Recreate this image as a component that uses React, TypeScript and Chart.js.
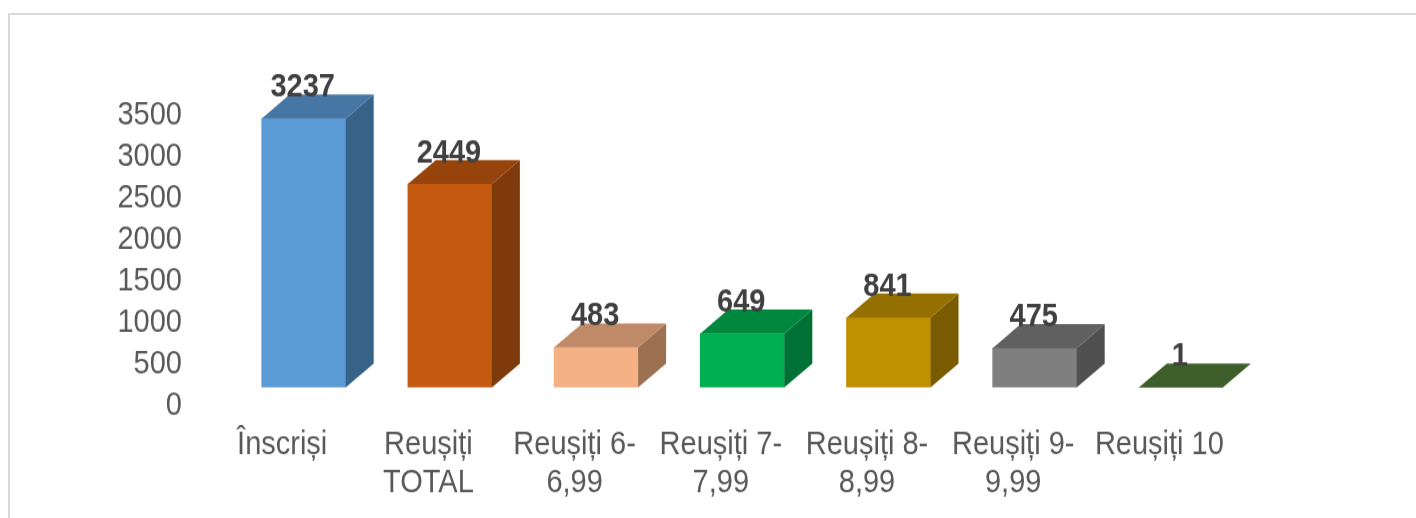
import React, { useEffect, useRef } from 'react';
import { Chart, registerables } from 'chart.js';

Chart.register(...registerables);

// ---- data ----
const categories: (string | string[])[] = [
  'Înscriși',
  ['Reușiți', 'TOTAL'],
  ['Reușiți 6-', '6,99'],
  ['Reușiți 7-', '7,99'],
  ['Reușiți 8-', '8,99'],
  ['Reușiți 9-', '9,99'],
  'Reușiți 10',
];
const values = [3237, 2449, 483, 649, 841, 475, 1];
const yMin = 0;
const yMax = 3500;
const yStep = 500;

const frontColors = ['#5B9BD5', '#C55A11', '#F4B183', '#00B050', '#BF9000', '#7F7F7F', '#548235'];
const topColors = ['#4676A3', '#96430C', '#C08968', '#00883E', '#937000', '#606060', '#3E5E2A'];
const sideColors = ['#386388', '#7E3A0B', '#9C7152', '#007134', '#7A5C00', '#505050', '#34501F'];

// ---- geometry / style ----
const W = 1416;
const H_CSS = 518;
const H = 462; // internal canvas height; stretched vertically to 518 by CSS
const FONT = "'Liberation Sans', Arial, Helvetica, sans-serif";
const DX = 28;
const DY = -21.4;

const bars3d = {
  id: 'bars3d',
  afterDatasetsDraw(chart: any) {
    const ctx = chart.ctx as CanvasRenderingContext2D;
    const meta = chart.getDatasetMeta(0);
    ctx.save();
    meta.data.forEach((el: any, i: number) => {
      const { x, y, base, width } = el.getProps(['x', 'y', 'base', 'width'], true);
      const l = x - width / 2;
      const r = x + width / 2;
      // side face
      ctx.fillStyle = sideColors[i];
      ctx.beginPath();
      ctx.moveTo(r, y);
      ctx.lineTo(r + DX, y + DY);
      ctx.lineTo(r + DX, base + DY);
      ctx.lineTo(r, base);
      ctx.closePath();
      ctx.fill();
      // top face
      ctx.fillStyle = topColors[i];
      ctx.beginPath();
      ctx.moveTo(l, y);
      ctx.lineTo(l + DX, y + DY);
      ctx.lineTo(r + DX, y + DY);
      ctx.lineTo(r, y);
      ctx.closePath();
      ctx.fill();
    });
    ctx.font = `bold 29px ${FONT}`;
    ctx.fillStyle = '#404040';
    ctx.textAlign = 'center';
    ctx.textBaseline = 'middle';
    meta.data.forEach((el: any, i: number) => {
      const { x, y } = el.getProps(['x', 'y'], true);
      ctx.fillText(String(values[i]), x - 1, y - 27.5);
    });
    ctx.restore();
  },
};

export default function App() {
  const ref = useRef<HTMLCanvasElement | null>(null);

  useEffect(() => {
    if (!ref.current) return;
    const chart = new Chart(ref.current, {
      type: 'bar',
      data: {
        labels: categories,
        datasets: [
          {
            data: values,
            backgroundColor: frontColors,
            borderWidth: 0,
            barThickness: 84,
          },
        ],
      },
      options: {
        responsive: false,
        animation: false,
        devicePixelRatio: 1,
        layout: { padding: { top: 86.2, left: 0, right: 162, bottom: 0 } },
        plugins: {
          legend: { display: false },
          tooltip: { enabled: false },
        },
        scales: {
          x: {
            grid: { display: false, drawTicks: false },
            border: { display: false },
            ticks: {
              autoSkip: false,
              maxRotation: 0,
              minRotation: 0,
              color: '#595959',
              font: { family: FONT, size: 29, lineHeight: 1.18 },
              padding: 34,
              labelOffset: -21.5,
            },
            afterFit: (scale: any) => {
              scale.height = 116.4;
            },
          },
          y: {
            min: yMin,
            max: yMax,
            grid: { display: false, drawTicks: false },
            border: { display: false },
            ticks: {
              stepSize: yStep,
              autoSkip: false,
              color: '#595959',
              font: { family: FONT, size: 29, lineHeight: 1 },
              padding: 48.6,
              labelOffset: 16.3,
              callback: (v: any) => String(v),
            },
            afterFit: (scale: any) => {
              scale.width = 230.6;
            },
          },
        },
      },
      plugins: [bars3d],
    });
    return () => chart.destroy();
  }, []);

  return (
    <div>
      <div
        style={{
          position: 'fixed',
          left: 8,
          top: 13,
          width: 1408,
          height: 505,
          boxSizing: 'border-box',
          borderTop: '2px solid #d9d9d9',
          borderLeft: '2px solid #d9d9d9',
        }}
      />
      <canvas
        ref={ref}
        width={W}
        height={H}
        style={{ position: 'fixed', left: 0, top: 0, width: `${W}px`, height: `${H_CSS}px` }}
      />
    </div>
  );
}
